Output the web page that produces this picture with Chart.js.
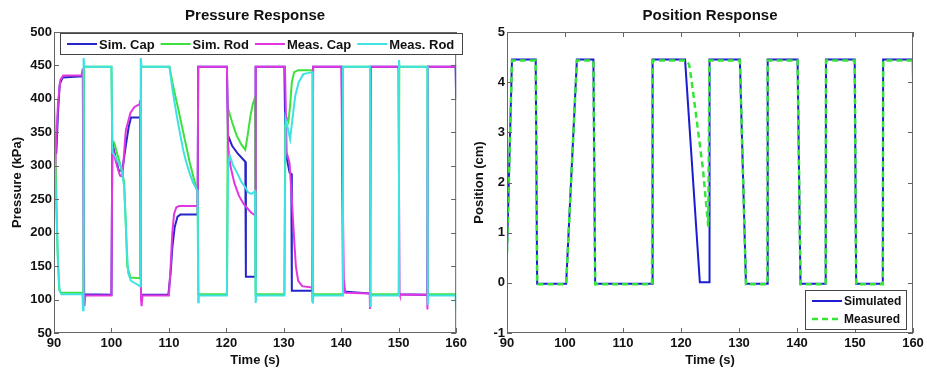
<!DOCTYPE html>
<html lang="en">
<head>
<meta charset="UTF-8">
<title>Pressure and Position Response</title>
<script src="https://cdn.jsdelivr.net/npm/chart.js"></script>
<style>
  body { margin: 0; background: #fff; width: 927px; height: 368px; position: relative; overflow: hidden; }
  #pressureChart { position: absolute; left: 0; top: 0; }
  #positionChart { position: absolute; left: 470px; top: 0; }
</style>
</head>
<body>
<canvas id="pressureChart" width="470" height="368"></canvas>
<canvas id="positionChart" width="457" height="368"></canvas>
<script>
// time ticks shared by both panels
const timeTicks = [90, 100, 110, 120, 130, 140, 150, 160];
const pressureTicks = [50, 100, 150, 200, 250, 300, 350, 400, 450, 500];
const positionTicks = [-1, 0, 1, 2, 3, 4, 5];

// pressure traces, [time (s), pressure (kPa)]
const simCap = [
  [90.0, 352], [90.4, 318], [90.7, 380], [91.0, 422], [91.5, 432], [95.1, 434],
  [95.25, 108], [100.0, 107],
  [100.15, 335], [100.7, 313], [101.3, 292], [101.9, 294], [102.5, 330], [103.0, 358], [103.4, 372], [105.0, 372],
  [105.15, 107], [109.9, 107],
  [110.3, 140], [110.6, 178], [111.0, 208], [111.5, 224], [112.0, 227], [115.0, 227],
  [115.1, 448], [120.1, 448],
  [120.3, 345], [121.0, 330], [122.0, 318], [123.3, 306], [123.4, 134], [125.0, 134],
  [125.1, 448], [130.1, 448],
  [130.3, 320], [131.0, 290], [131.3, 288], [131.4, 113], [135.0, 113],
  [135.1, 448], [140.1, 448],
  [140.3, 112], [145.0, 109],
  [145.1, 448], [150.0, 448],
  [150.1, 108], [155.0, 107],
  [155.1, 448], [159.9, 448], [160.0, 400]
];
const simRod = [
  [90.0, 398], [90.3, 300], [90.6, 180], [90.9, 115], [91.2, 110], [95.1, 110],
  [95.25, 448], [100.0, 448],
  [100.15, 338], [100.5, 334], [101.0, 318], [101.6, 300], [102.2, 276], [102.5, 214], [102.75, 150], [103.3, 133], [105.0, 132],
  [105.15, 448], [110.1, 448],
  [110.6, 425], [111.1, 405], [111.6, 386], [112.2, 362], [112.8, 338], [113.6, 306], [114.3, 282], [115.0, 260],
  [115.15, 108], [120.1, 108],
  [120.25, 372], [120.5, 380], [121.0, 365], [121.8, 345], [122.6, 332], [123.3, 324], [123.7, 345], [124.2, 375], [124.6, 392], [125.0, 402],
  [125.1, 108], [130.1, 108],
  [130.25, 360], [130.5, 372], [130.8, 366], [131.1, 390], [131.4, 425], [131.8, 440], [132.5, 443], [135.0, 443],
  [135.1, 108], [140.2, 108],
  [140.3, 448], [145.0, 448],
  [145.1, 108], [150.0, 108],
  [150.1, 448], [155.0, 448],
  [155.1, 108], [160.0, 108]
];
const measCap = [
  [90.0, 230], [90.3, 320], [90.7, 395], [91.1, 428], [91.6, 435], [94.8, 435], [95.0, 445],
  [95.2, 100], [95.3, 90], [95.45, 106], [100.0, 106],
  [100.15, 334], [100.5, 315], [101.0, 299], [101.5, 285], [101.9, 284], [102.5, 353], [103.3, 379], [104.0, 388], [104.9, 392], [105.0, 398],
  [105.15, 100], [105.25, 90], [105.4, 106], [110.0, 106],
  [110.3, 150], [110.6, 200], [110.9, 228], [111.3, 238], [111.8, 240], [115.0, 240],
  [115.1, 448], [120.1, 448],
  [120.3, 330], [120.7, 300], [121.4, 274], [122.2, 255], [123.0, 243], [123.6, 237], [124.3, 230], [125.0, 226],
  [125.1, 448], [130.2, 448],
  [130.5, 320], [131.0, 304], [131.4, 250], [131.8, 190], [132.1, 150], [132.5, 128], [133.2, 120], [134.95, 118], [135.0, 96],
  [135.1, 448], [140.0, 448],
  [140.2, 300], [140.45, 130], [140.7, 110], [144.95, 109], [145.0, 86],
  [145.1, 448], [150.0, 448],
  [150.1, 110], [150.2, 107], [154.95, 107], [155.0, 85],
  [155.1, 448], [160.0, 448]
];
const measRod = [
  [90.0, 340], [90.4, 240], [90.7, 150], [91.0, 112], [91.3, 108], [94.95, 108], [95.05, 84],
  [95.15, 461], [95.3, 448], [100.0, 448],
  [100.15, 320], [100.6, 315], [101.2, 305], [101.7, 298], [102.2, 270], [102.6, 190], [102.9, 140], [103.4, 128], [104.2, 124], [105.0, 120],
  [105.1, 461], [105.25, 448], [110.1, 448],
  [110.6, 415], [111.3, 378], [112.0, 345], [112.5, 323], [113.0, 306], [113.6, 289], [114.2, 275], [115.0, 262],
  [115.1, 96], [115.2, 106], [120.1, 106],
  [120.3, 300], [120.6, 315], [121.2, 300], [121.9, 289], [122.6, 276], [123.3, 268], [123.8, 260], [124.4, 258], [125.0, 262],
  [125.1, 95], [125.2, 106], [130.1, 106],
  [130.3, 370], [130.6, 360], [131.1, 340], [131.5, 370], [132.0, 405], [132.6, 425], [133.4, 437], [135.0, 440],
  [135.05, 94], [135.15, 106], [140.2, 106],
  [140.3, 448], [145.0, 448],
  [145.05, 90], [145.15, 106], [150.0, 106],
  [150.05, 458], [150.15, 448], [155.0, 448],
  [155.05, 92], [155.15, 106], [159.9, 106], [160.0, 84]
];

// piston position, [time (s), position (cm)]
const posSimulated = [
  [90.0, 0.6], [90.86, 4.45], [94.95, 4.45], [95.2, -0.02], [100.2, -0.02], [102.05, 4.45],
  [104.9, 4.45], [105.2, -0.02], [115.0, -0.02], [115.1, 4.45], [120.7, 4.45], [123.25, 0.01],
  [124.9, 0.01], [124.92, 4.45], [130.15, 4.45], [131.2, -0.02], [134.9, -0.02], [134.95, 4.45],
  [140.1, 4.45], [140.6, -0.02], [144.95, -0.02], [145.0, 4.45], [149.95, 4.45], [150.2, -0.02],
  [154.8, -0.02], [154.85, 4.45], [159.95, 4.45], [160.0, 4.02]
];
const posMeasured = [
  [90.0, 0.6], [90.86, 4.43], [94.95, 4.43], [95.2, -0.03], [100.2, -0.03], [102.05, 4.43],
  [104.9, 4.43], [105.2, -0.03], [115.0, -0.03], [115.1, 4.43], [121.0, 4.43], [121.4, 4.35],
  [121.8, 4.05], [122.7, 3.25], [123.8, 2.25], [124.7, 1.12], [124.9, 4.43], [130.15, 4.43],
  [131.2, -0.03], [134.9, -0.03], [134.95, 4.43], [140.1, 4.43], [140.6, -0.03], [144.95, -0.03],
  [145.0, 4.43], [149.95, 4.43], [150.2, -0.03], [154.8, -0.03], [154.85, 4.43], [160.0, 4.43]
];

Chart.defaults.font.family = "'Liberation Sans', Arial, Helvetica, sans-serif";
Chart.defaults.color = '#111';

const toPoints = arr => arr.map(p => ({ x: p[0], y: p[1] }));
const bold13 = { size: 13, weight: 'bold' };

// box around the axes with inward ticks on all four sides, plus an in-plot legend
const frameAndLegend = {
  id: 'frameAndLegend',
  afterDatasetsDraw(chart, args, opts) {
    const { ctx, chartArea: a, scales: { x, y } } = chart;
    ctx.save();
    ctx.strokeStyle = '#666';
    ctx.lineWidth = 1;
    ctx.strokeRect(a.left + 0.5, a.top + 0.5, a.width - 1, a.height - 1);
    ctx.beginPath();
    x.ticks.forEach(t => {
      const px = Math.round(x.getPixelForValue(t.value)) + 0.5;
      ctx.moveTo(px, a.bottom); ctx.lineTo(px, a.bottom - 5);
      ctx.moveTo(px, a.top); ctx.lineTo(px, a.top + 5);
    });
    y.ticks.forEach(t => {
      const py = Math.round(y.getPixelForValue(t.value)) + 0.5;
      ctx.moveTo(a.left, py); ctx.lineTo(a.left + 5, py);
      ctx.moveTo(a.right, py); ctx.lineTo(a.right - 5, py);
    });
    ctx.stroke();

    // legend box
    const lg = opts.legend;
    const bx = lg.right ? a.right - lg.right - lg.width : a.left + lg.left;
    const by = lg.bottom ? a.bottom - lg.bottom - lg.height : a.top + lg.top;
    ctx.fillStyle = '#fff';
    ctx.fillRect(bx, by, lg.width, lg.height);
    ctx.strokeStyle = '#444';
    ctx.strokeRect(bx + 0.5, by + 0.5, lg.width - 1, lg.height - 1);
    ctx.font = `bold ${lg.fontSize}px 'Liberation Sans', Arial, sans-serif`;
    ctx.textBaseline = 'middle';
    ctx.textAlign = 'left';
    let cx = bx + 7;
    let cy = by + lg.firstRow;
    chart.data.datasets.forEach(ds => {
      ctx.strokeStyle = ds.borderColor;
      ctx.lineWidth = ds.borderWidth;
      ctx.setLineDash(ds.borderDash || []);
      ctx.beginPath();
      ctx.moveTo(cx, cy); ctx.lineTo(cx + 30, cy);
      ctx.stroke();
      ctx.setLineDash([]);
      ctx.fillStyle = '#111';
      ctx.fillText(ds.label, cx + 32, cy + 1);
      if (lg.horizontal) {
        cx += 32 + ctx.measureText(ds.label).width + 6;
      } else {
        cy += lg.rowGap;
      }
    });
    ctx.restore();
  }
};

function axes(yMin, yMax, yTicks, yTitle, plotTitle, yTitlePad, yWidth) {
  return {
    x: {
      type: 'linear', min: 90, max: 160,
      afterBuildTicks: s => { s.ticks = timeTicks.map(v => ({ value: v })); },
      ticks: { font: bold13, padding: 3, color: '#111' },
      grid: { display: false, drawTicks: false },
      border: { display: false },
      title: { display: true, text: 'Time (s)', font: bold13, padding: { top: 0, bottom: 0 } },
      afterFit: s => { s.height = 35; }
    },
    top: {
      type: 'linear', position: 'top', min: 90, max: 160,
      ticks: { display: false },
      grid: { display: false, drawTicks: false },
      border: { display: false },
      title: { display: true, text: plotTitle, font: { size: 15, weight: 'bold' }, padding: { top: 7, bottom: 0 } },
      afterFit: s => { s.height = 32; }
    },
    y: {
      type: 'linear', min: yMin, max: yMax,
      afterBuildTicks: s => { s.ticks = yTicks.map(v => ({ value: v })); },
      ticks: { font: bold13, padding: 2, color: '#111' },
      grid: { display: false, drawTicks: false },
      border: { display: false },
      title: { display: true, text: yTitle, font: bold13, padding: { top: yTitlePad, bottom: 0 } },
      afterFit: s => { s.width = yWidth; }
    }
  };
}

const line = (label, data, color, order, extra) => Object.assign({
  label, data: toPoints(data), borderColor: color, borderWidth: 2,
  pointRadius: 0, tension: 0, fill: false, order, xAxisID: 'x', yAxisID: 'y'
}, extra || {});

new Chart(document.getElementById('pressureChart'), {
  type: 'line',
  data: {
    datasets: [
      line('Sim. Cap', simCap, '#2626c8', 4),
      line('Sim. Rod', simRod, '#3ee03e', 3),
      line('Meas. Cap', measCap, '#e236e2', 2),
      line('Meas. Rod', measRod, '#3ee2e2', 1)
    ]
  },
  options: {
    responsive: false,
    animation: false,
    layout: { padding: { left: 0, right: 8, top: 0, bottom: 0 } },
    scales: axes(50, 500, pressureTicks, 'Pressure (kPa)', 'Pressure Response', 10, 54),
    plugins: {
      legend: { display: false },
      tooltip: { enabled: false },
      frameAndLegend: { legend: { horizontal: true, left: 6, top: 1, width: 403, height: 22, firstRow: 11, fontSize: 13 } }
    }
  },
  plugins: [frameAndLegend]
});

new Chart(document.getElementById('positionChart'), {
  type: 'line',
  data: {
    datasets: [
      line('Simulated', posSimulated, '#1c1cd2', 2),
      line('Measured', posMeasured, '#36e636', 1, { borderDash: [6, 4], borderWidth: 2.5 })
    ]
  },
  options: {
    responsive: false,
    animation: false,
    layout: { padding: { left: 0, right: 14, top: 0, bottom: 0 } },
    scales: axes(-1, 5, positionTicks, 'Position (cm)', 'Position Response', 2, 37),
    plugins: {
      legend: { display: false },
      tooltip: { enabled: false },
      frameAndLegend: { legend: { horizontal: false, right: 6, bottom: 3, width: 102, height: 40, firstRow: 11, rowGap: 18, fontSize: 12 } }
    }
  },
  plugins: [frameAndLegend]
});
</script>
</body>
</html>
